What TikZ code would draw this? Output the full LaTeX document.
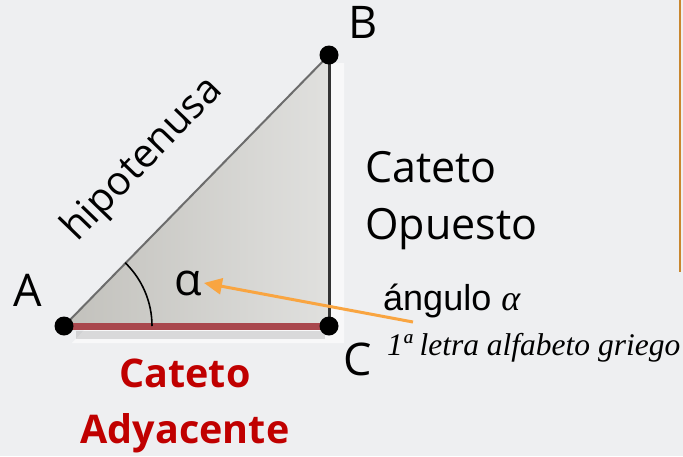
\documentclass[tikz,border=0pt]{standalone}
\usepackage{fontspec}
\newfontfamily\osans{Open Sans}
\newfontfamily\lsans{Liberation Sans}
\newfontfamily\lserif{Liberation Serif}
\usetikzlibrary{arrows.meta,calc}
\definecolor{TRBack}  {HTML}{EEEFF1}
\definecolor{TRRed}   {HTML}{C00000}
\definecolor{TRSide}  {HTML}{A9474D}
\definecolor{TROrange}{HTML}{F9A541}
\definecolor{TRBrown} {HTML}{C8862F}
\definecolor{TRDark}  {HTML}{C2C1BC}
\definecolor{TRLight} {HTML}{E0E0DE}

\begin{document}
\begin{tikzpicture}[x=1pt,y=-1pt,
    lbl/.style={font=\osans\fontsize{45}{54}\selectfont,inner sep=0pt},
    cat/.style={font=\osans\fontsize{43}{52}\selectfont,inner sep=0pt,anchor=base west},
    adj/.style={font=\osans\bfseries\fontsize{39.5}{48}\selectfont,text=TRRed,inner sep=0pt,anchor=base},
    dot/.style={circle,fill=black,inner sep=0pt,minimum size=19pt},
    arr/.style={-{Triangle[length=18pt,width=16pt]},TROrange,line width=3pt}
  ]
    \useasboundingbox[fill=TRBack] (0,0) rectangle (683,456);
    \coordinate (A) at (64,326);
    \coordinate (B) at (329,55);
    \coordinate (C) at (329,326);
    \fill[white,opacity=.6] ($(B)+(4,8)$) -- ($(B)+(15,8)$) -- ($(C)+(15,17)$) -- ($(A)+(8,17)$) -- cycle;
    \draw[black,opacity=.12,line width=8pt] ($(A)+(12,9)$) -- ($(C)+(-4,9)$);
    \shade[left color=TRDark,right color=TRLight] (A) -- (B) -- (C) -- cycle;
    \draw[gray!85!black,line width=2pt] (A) -- (B);
    \draw[black!80,line width=3pt] (B) -- (C);
    \draw[TRSide,line width=7pt] (A) -- (C);
    \draw[line width=1.6pt] (A) ++(88,0) arc[start angle=0,end angle=-46,radius=88];
    \node[dot] (dA) at (A) {};
    \node[dot] (dB) at (B) {};
    \node[dot] (dC) at (C) {};
    \node[lbl,anchor=base] (lA) at (28,306) {A};
    \node[lbl,anchor=base] (lB) at (363,38) {B};
    \node[lbl,anchor=base] (lC) at (358,375) {C};
    \node[lbl,anchor=base,inner sep=2pt] (al) at (188,295) {α};
    \node[font=\osans\fontsize{40}{48}\selectfont,rotate=46,inner sep=0pt] (hip) at (143,160) {hipotenusa};
    \node[cat] (op1) at (365,182) {Cateto};
    \node[cat] (op2) at (365,239) {Opuesto};
    \node[adj] (ad1) at (185,387) {Cateto};
    \node[adj] (ad2) at (185,443) {Adyacente};
    \node[font=\lsans\fontsize{36}{42}\selectfont,anchor=base west,inner sep=0pt] (ang) at (383,310) {ángulo {\lserif\itshape α}};
    \node[font=\lserif\itshape\fontsize{31.5}{38}\selectfont,anchor=base west,inner sep=0pt] (gr) at (387,355) {1ª letra alfabeto griego};
    \coordinate (t) at (413,322);
    \draw[arr] (t) -- (al.east);
    \draw[TRBrown,line width=2.5pt] (680,0) -- (680,272);
  \end{tikzpicture}
\end{document}
